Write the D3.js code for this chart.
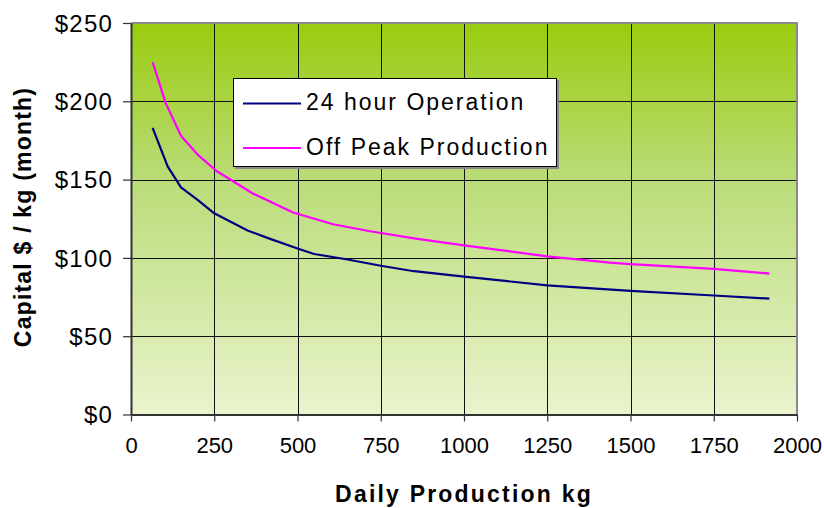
<!DOCTYPE html>
<html>
<head>
<meta charset="utf-8">
<script src="https://cdn.jsdelivr.net/npm/d3@7/dist/d3.min.js"></script>
<style>
  html, body { margin: 0; padding: 0; background: #fff; }
  svg { display: block; font-family: "Liberation Sans", Arial, sans-serif; }
</style>
</head>
<body>
<svg id="chart" width="824" height="508"></svg>
<script>
// Capital cost per kg of daily production, two operating modes
const xTicks = [0, 250, 500, 750, 1000, 1250, 1500, 1750, 2000];
const yTicks = [0, 50, 100, 150, 200, 250];

const fullDayKg   = [65, 110, 150, 200, 250, 350, 420, 500, 550, 650, 750, 850, 1000, 1250, 1500, 1750, 1917];
const fullDayCost = [183, 158.5, 145, 137, 128.5, 117.5, 112, 106, 102.5, 99, 95, 91.5, 88, 82.5, 79, 76, 74];

const offPeakKg   = [65, 104, 150, 200, 257, 367, 487, 607, 718, 850, 1000, 1250, 1438, 1500, 1750, 1917];
const offPeakCost = [225, 199, 178, 166, 155.5, 141, 129, 121.5, 117, 112.5, 108, 101, 97, 96, 93, 90];

const seriesNames  = ["24 hour Operation", "Off Peak Production"];
const seriesColors = ["#000080", "#FF00FF"];

const svg = d3.select("#chart");
const plot = { left: 131, right: 797, top: 23, bottom: 414.5 };

const x = d3.scaleLinear().domain([0, 2000]).range([plot.left, plot.right]);
const y = d3.scaleLinear().domain([0, 250]).range([plot.bottom, plot.top]);

// Plot area gradient
const defs = svg.append("defs");
const grad = defs.append("linearGradient").attr("id", "bg")
  .attr("x1", 0).attr("y1", 0).attr("x2", 0).attr("y2", 1);
grad.append("stop").attr("offset", "0%").attr("stop-color", "#99CC0E");
grad.append("stop").attr("offset", "40%").attr("stop-color", "#BADC78");
grad.append("stop").attr("offset", "100%").attr("stop-color", "#EAF4CE");

svg.append("rect")
  .attr("x", plot.left).attr("y", plot.top)
  .attr("width", plot.right - plot.left).attr("height", plot.bottom - plot.top)
  .attr("fill", "url(#bg)");

// Gridlines
svg.append("g")
  .selectAll("line").data(xTicks.slice(1, -1)).join("line")
  .attr("x1", d => Math.round(x(d)) + 0.5).attr("x2", d => Math.round(x(d)) + 0.5)
  .attr("y1", plot.top).attr("y2", plot.bottom)
  .attr("stroke", "#111").attr("stroke-width", 1);
svg.append("g")
  .selectAll("line").data(yTicks.slice(1, -1)).join("line")
  .attr("x1", plot.left).attr("x2", plot.right)
  .attr("y1", d => Math.round(y(d)) + 0.5).attr("y2", d => Math.round(y(d)) + 0.5)
  .attr("stroke", "#111").attr("stroke-width", 1);

// Top and right border
svg.append("path")
  .attr("d", `M${plot.left},${plot.top} H${plot.right} V${plot.bottom}`)
  .attr("fill", "none").attr("stroke", "#8a8a8a").attr("stroke-width", 2);

// Axes
const xAxis = svg.append("g")
  .attr("transform", `translate(0,${plot.bottom})`)
  .call(d3.axisBottom(x).tickValues(xTicks).tickSize(7).tickSizeOuter(0).tickPadding(16)
    .tickFormat(d3.format("d")));
const yAxis = svg.append("g")
  .attr("transform", `translate(${plot.left},0)`)
  .call(d3.axisLeft(y).tickValues(yTicks).tickSize(8).tickSizeOuter(0).tickPadding(10)
    .tickFormat(d => "$" + d));

[xAxis, yAxis].forEach(g => {
  g.select(".domain").attr("stroke", "#333").attr("stroke-width", 2);
  g.selectAll(".tick line").attr("stroke", "#333").attr("stroke-width", 1.2);
  g.selectAll(".tick text").attr("fill", "#000")
    .style("font-family", "'Liberation Sans', Arial, sans-serif");
});
xAxis.selectAll(".tick text").style("font-size", "22px");
yAxis.selectAll(".tick text").style("font-size", "24px").style("letter-spacing", "1.2px")
  .attr("dy", "0.34em");

// Series lines
const line = d3.line().x(d => x(d[0])).y(d => y(d[1]));
const series = [
  d3.zip(fullDayKg, fullDayCost),
  d3.zip(offPeakKg, offPeakCost)
];
svg.append("g").selectAll("path").data(series).join("path")
  .attr("d", line)
  .attr("fill", "none")
  .attr("stroke", (d, i) => seriesColors[i])
  .attr("stroke-width", 2.2)
  .attr("stroke-linejoin", "round");

// Legend
const lg = svg.append("g");
lg.append("rect").attr("x", 235).attr("y", 80).attr("width", 324).attr("height", 89)
  .attr("fill", "#8a8a8a");
lg.append("rect").attr("x", 233.5).attr("y", 78.5).attr("width", 323).attr("height", 88)
  .attr("fill", "#fff").attr("stroke", "#000").attr("stroke-width", 1);
const items = lg.selectAll("g.item").data(seriesNames).join("g")
  .attr("class", "item")
  .attr("transform", (d, i) => `translate(0,${103.5 + i * 44.5})`);
items.append("line").attr("x1", 243).attr("x2", 301)
  .attr("stroke", (d, i) => seriesColors[i]).attr("stroke-width", 2.2);
items.append("text").attr("x", 306).attr("y", 6.5)
  .style("font-size", "23px").style("letter-spacing", "2px")
  .attr("fill", "#000").text(d => d);

// Axis titles
svg.append("text")
  .attr("x", 464).attr("y", 501.5).attr("text-anchor", "middle")
  .style("font-size", "23px").style("font-weight", "bold").style("letter-spacing", "2.2px")
  .text("Daily Production kg");
svg.append("text")
  .attr("transform", "translate(31,217) rotate(-90)").attr("text-anchor", "middle")
  .style("font-size", "23px").style("font-weight", "bold").style("letter-spacing", "1.2px")
  .text("Capital $ / kg (month)");
</script>
</body>
</html>
